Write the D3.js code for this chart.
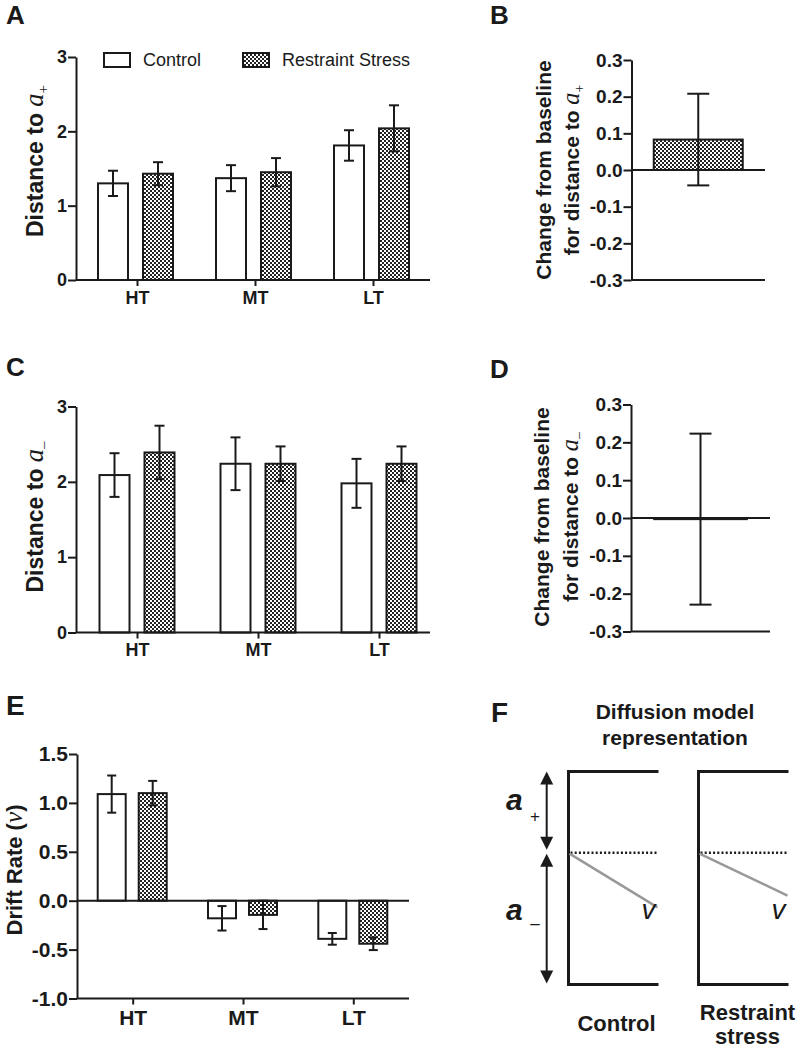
<!DOCTYPE html>
<html>
<head>
<meta charset="utf-8">
<script src="https://cdn.jsdelivr.net/npm/d3@7"></script>
<style>
  body { margin: 0; background: #fff; }
  text { font-family: "Liberation Sans", Arial, sans-serif; fill: #1a1a1a; }
</style>
</head>
<body>
<script>
// categories and groups
var categories = ["HT", "MT", "LT"];
var groups = ["Control", "Restraint Stress"];

// Panel A - distance to a+
var aPlusControl = [1.30, 1.37, 1.81];
var aPlusControlSem = [0.17, 0.175, 0.205];
var aPlusStress = [1.43, 1.45, 2.04];
var aPlusStressSem = [0.155, 0.19, 0.31];
var distanceTicks = [0, 1, 2, 3];

// Panel B - change from baseline, a+
var aPlusChange = [0.083];
var aPlusChangeSem = [0.125];
var changeTicks = [-0.3, -0.2, -0.1, 0.0, 0.1, 0.2, 0.3];

// Panel C - distance to a-
var aMinusControl = [2.09, 2.24, 1.98];
var aMinusControlSem = [0.29, 0.35, 0.325];
var aMinusStress = [2.39, 2.24, 2.24];
var aMinusStressSem = [0.355, 0.23, 0.23];

// Panel D - change from baseline, a-
var aMinusChange = [-0.003];
var aMinusChangeSem = [0.226];

// Panel E - drift rate
var driftControl = [1.09, -0.18, -0.39];
var driftControlSem = [0.19, 0.125, 0.06];
var driftStress = [1.10, -0.145, -0.44];
var driftStressSem = [0.125, 0.145, 0.065];
var driftTicks = [-1.0, -0.5, 0.0, 0.5, 1.0, 1.5];

// Panel F - diffusion model sketch
var diagramConditions = ["Control", "Restraint stress"];
var diagramBounds = [1, -1.625];   // a+ above start, a- below start
var diagramDrift = [-0.674, -0.53];

var ink = "#1a1a1a";

var svg = d3.select("body")
  .append("svg")
  .attr("width", 797)
  .attr("height", 1050);

// checkered fill used for restraint stress bars
var pat = svg.append("defs").append("pattern")
  .attr("id", "checker")
  .attr("patternUnits", "userSpaceOnUse")
  .attr("width", 4)
  .attr("height", 4);
pat.append("rect").attr("width", 4).attr("height", 4).attr("fill", "#fff");
pat.append("rect").attr("width", 2).attr("height", 2).attr("fill", "#222");
pat.append("rect").attr("x", 2).attr("y", 2).attr("width", 2).attr("height", 2).attr("fill", "#222");

var fmt1 = d => d.toFixed(1);

function panelLetter(label, x, y, size) {
  svg.append("text")
    .attr("x", x).attr("y", y)
    .attr("font-size", size)
    .attr("font-weight", "bold")
    .text(label);
}

// rotated y label; parts = [[text, style], ...]
function yLabel(lines, x, y, size, lineGap) {
  var t = svg.append("text")
    .attr("transform", `translate(${x},${y}) rotate(-90)`)
    .attr("text-anchor", "middle")
    .attr("font-size", size)
    .attr("font-weight", "bold");
  lines.forEach(function(parts, i) {
    var first = true;
    parts.forEach(function(p) {
      var s = t.append("tspan").text(p[0]);
      if (first) {
        s.attr("x", 0).attr("y", i * lineGap);
        first = false;
      }
      if (p[1] === "it") {
        s.attr("font-family", "'Liberation Serif', serif")
          .attr("font-style", "italic")
          .attr("font-weight", "normal")
          .attr("font-size", size * 1.15);
      } else if (p[1] === "sub") {
        s.attr("font-family", "'Liberation Serif', serif")
          .attr("font-weight", "normal")
          .attr("font-size", size * 0.65)
          .attr("dy", size * 0.22);
      }
    });
  });
}

function errorBar(g, cx, lo, hi, cap) {
  g.append("line")
    .attr("x1", cx).attr("x2", cx)
    .attr("y1", lo).attr("y2", hi)
    .attr("stroke", ink).attr("stroke-width", 2);
  [lo, hi].forEach(function(yy) {
    g.append("line")
      .attr("x1", cx - cap / 2).attr("x2", cx + cap / 2)
      .attr("y1", yy).attr("y2", yy)
      .attr("stroke", ink).attr("stroke-width", 2);
  });
}

function hLine(g, x1, x2, yy) {
  g.append("line")
    .attr("x1", x1).attr("x2", x2)
    .attr("y1", yy).attr("y2", yy)
    .attr("stroke", ink).attr("stroke-width", 2);
}

function styleTicks(sel, size) {
  sel.selectAll("text")
    .attr("font-size", size).attr("font-weight", "bold")
    .attr("font-family", "'Liberation Sans', Arial, sans-serif").attr("fill", ink);
}

// grouped bar panels (A, C, E)
function groupedPanel(cfg) {
  var g = svg.append("g");
  var y = d3.scaleLinear().domain(cfg.yDomain).range([cfg.bottom, cfg.top]);
  var x = d3.scalePoint().domain(categories).range(cfg.xCenters);
  var span = 2 * cfg.barW + cfg.gap;
  var inner = d3.scaleBand()
    .domain(groups)
    .range([-span / 2 + cfg.shift, span / 2 + cfg.shift])
    .paddingInner(cfg.gap / (cfg.barW + cfg.gap));

  var series = [
    { name: groups[0], values: cfg.control, sem: cfg.controlSem, fill: "#fff" },
    { name: groups[1], values: cfg.stress, sem: cfg.stressSem, fill: "url(#checker)" }
  ];

  series.forEach(function(s) {
    categories.forEach(function(c, i) {
      var v = s.values[i];
      var bx = x(c) + inner(s.name);
      g.append("rect")
        .attr("x", bx)
        .attr("y", Math.min(y(v), y(0)))
        .attr("width", inner.bandwidth())
        .attr("height", Math.abs(y(v) - y(0)))
        .attr("fill", s.fill)
        .attr("stroke", ink)
        .attr("stroke-width", 2);
    });
  });
  series.forEach(function(s) {
    categories.forEach(function(c, i) {
      var v = s.values[i];
      var cx = x(c) + inner(s.name) + inner.bandwidth() / 2;
      errorBar(g, cx, y(v - s.sem[i]), y(v + s.sem[i]), cfg.cap);
    });
  });

  // y axis
  var yAxis = g.append("g")
    .attr("transform", `translate(${cfg.axisX},0)`)
    .call(d3.axisLeft(y).tickValues(cfg.ticks).tickFormat(cfg.fmt).tickSize(8).tickSizeOuter(0).tickPadding(1));
  yAxis.selectAll("path, line").attr("stroke", ink).attr("stroke-width", 2);
  styleTicks(yAxis, cfg.tickFont);

  // x axis at the bottom of the plot
  var bottomY = y(cfg.yDomain[0]);
  hLine(g, cfg.axisX, cfg.xEnd, bottomY);
  if (cfg.yDomain[0] < 0) hLine(g, cfg.axisX, cfg.xEnd, y(0));
  var xAxis = g.append("g")
    .attr("transform", `translate(0,${bottomY})`)
    .call(d3.axisBottom(x).tickSize(6).tickPadding(cfg.xPad));
  xAxis.select(".domain").remove();
  xAxis.selectAll("line").attr("stroke", ink).attr("stroke-width", 2);
  styleTicks(xAxis, cfg.xFont);
  return g;
}

// single bar change panels (B, D)
function changePanel(cfg) {
  var g = svg.append("g");
  var y = d3.scaleLinear().domain([-0.3, 0.3]).range([cfg.bottom, cfg.top]);
  var x = d3.scaleBand().domain([groups[1]]).range([cfg.axisX, cfg.xEnd]).paddingOuter(0.25);
  var v = cfg.values[0];
  g.append("rect")
    .attr("x", x(groups[1]))
    .attr("y", Math.min(y(v), y(0)))
    .attr("width", x.bandwidth())
    .attr("height", Math.max(Math.abs(y(v) - y(0)), 0.5))
    .attr("fill", "url(#checker)")
    .attr("stroke", ink)
    .attr("stroke-width", 2);
  errorBar(g, x(groups[1]) + x.bandwidth() / 2, y(v - cfg.sem[0]), y(v + cfg.sem[0]), 22);

  var yAxis = g.append("g")
    .attr("transform", `translate(${cfg.axisX},0)`)
    .call(d3.axisLeft(y).tickValues(changeTicks).tickFormat(fmt1).tickSize(8).tickSizeOuter(0).tickPadding(1));
  yAxis.selectAll("path, line").attr("stroke", ink).attr("stroke-width", 2);
  styleTicks(yAxis, 19);
  hLine(g, cfg.axisX, cfg.xEnd, y(0));
  hLine(g, cfg.axisX, cfg.xEnd, y(-0.3));
}

// ---- Panel A
panelLetter("A", 6, 24, 26);
groupedPanel({
  yDomain: [0, 3], bottom: 280, top: 57, ticks: distanceTicks, fmt: d3.format("d"),
  xCenters: [137, 373], barW: 30, gap: 15, shift: -1.5, cap: 10,
  axisX: 76, xEnd: 430, tickFont: 18, xFont: 18, xPad: 5,
  control: aPlusControl, controlSem: aPlusControlSem,
  stress: aPlusStress, stressSem: aPlusStressSem
});
yLabel([[["Distance to "], ["a", "it"], ["+", "sub"]]], 43, 161, 23, 0);

// legend
var legend = svg.append("g");
var legendX = d3.scalePoint().domain(groups).range([104, 243]);
groups.forEach(function(name, i) {
  legend.append("rect")
    .attr("x", legendX(name)).attr("y", 53)
    .attr("width", 26).attr("height", 14)
    .attr("fill", i === 0 ? "#fff" : "url(#checker)")
    .attr("stroke", ink).attr("stroke-width", 2);
  legend.append("text")
    .attr("x", legendX(name) + 39).attr("y", 66)
    .attr("font-size", 18)
    .text(name);
});

// ---- Panel B
panelLetter("B", 490, 24, 26);
changePanel({ bottom: 280, top: 60, axisX: 631.5, xEnd: 765, values: aPlusChange, sem: aPlusChangeSem });
yLabel([[["Change from baseline"]], [["for distance to "], ["a", "it"], ["+", "sub"]]], 551, 170, 21, 28);

// ---- Panel C
panelLetter("C", 6, 376, 26);
groupedPanel({
  yDomain: [0, 3], bottom: 632.5, top: 406.5, ticks: distanceTicks, fmt: d3.format("d"),
  xCenters: [137, 379], barW: 30, gap: 15, shift: 0, cap: 10,
  axisX: 76, xEnd: 430, tickFont: 18, xFont: 18, xPad: 5,
  control: aMinusControl, controlSem: aMinusControlSem,
  stress: aMinusStress, stressSem: aMinusStressSem
});
yLabel([[["Distance to "], ["a", "it"], ["\u2013", "sub"]]], 43, 517, 23, 0);

// ---- Panel D
panelLetter("D", 490, 378, 26);
changePanel({ bottom: 631.5, top: 404.5, axisX: 631, xEnd: 770, values: aMinusChange, sem: aMinusChangeSem });
yLabel([[["Change from baseline"]], [["for distance to "], ["a", "it"], ["\u2013", "sub"]]], 549, 517, 21, 29);

// ---- Panel E
panelLetter("E", 6, 715, 28);
groupedPanel({
  yDomain: [-1, 1.5], bottom: 998.5, top: 754, ticks: driftTicks, fmt: fmt1,
  xCenters: [132.7, 353.3], barW: 28, gap: 13, shift: -0.5, cap: 9,
  axisX: 77, xEnd: 409, tickFont: 21, xFont: 21, xPad: 6,
  control: driftControl, controlSem: driftControlSem,
  stress: driftStress, stressSem: driftStressSem
});
yLabel([[["Drift Rate ("], ["v", "it"], [")"]]], 22, 870, 22, 0);

// ---- Panel F
panelLetter("F", 491, 722, 28);
svg.append("text").attr("x", 675).attr("y", 719).attr("text-anchor", "middle")
  .attr("font-size", 21).attr("font-weight", "bold").text("Diffusion model");
svg.append("text").attr("x", 675).attr("y", 745).attr("text-anchor", "middle")
  .attr("font-size", 21).attr("font-weight", "bold").text("representation");

var fy = d3.scaleLinear().domain([diagramBounds[1], diagramBounds[0]]).range([984.5, 771.5]);
var fx = d3.scaleBand().domain(diagramConditions).range([568.5, 788.5]).paddingInner(40 / 130);
var fg = svg.append("g");

diagramConditions.forEach(function(cond, i) {
  var x0 = fx(cond), x1 = x0 + fx.bandwidth();
  fg.append("path")
    .attr("d", `M${x1},${fy(diagramBounds[0])}H${x0}V${fy(diagramBounds[1])}H${x1}`)
    .attr("fill", "none").attr("stroke", ink).attr("stroke-width", 3);
  fg.append("line")
    .attr("x1", x0 + 2).attr("x2", x1 - 2)
    .attr("y1", fy(0)).attr("y2", fy(0))
    .attr("stroke", ink).attr("stroke-width", 2.5).attr("stroke-dasharray", "2,2.2");
  fg.append("line")
    .attr("x1", x0 + 1).attr("x2", x1 - 1)
    .attr("y1", fy(0) + 1).attr("y2", fy(diagramDrift[i]))
    .attr("stroke", "#999").attr("stroke-width", 2.5);
  fg.append("text")
    .attr("x", x1 - 10).attr("y", 919)
    .attr("text-anchor", "middle")
    .attr("font-family", "'Liberation Serif', serif")
    .attr("font-style", "italic").attr("font-size", 28)
    .text("v");
});

// double arrows for a+ and a-
var ax = 546.7;
function arrowHead(xx, yy, dir) {
  fg.append("path")
    .attr("d", `M${xx},${yy}L${xx - 6.5},${yy - dir * 13}L${xx + 6.5},${yy - dir * 13}Z`)
    .attr("fill", ink);
}
[[fy(diagramBounds[0]), fy(0) - 3], [fy(0) + 1, fy(diagramBounds[1]) - 1]].forEach(function(seg) {
  fg.append("line")
    .attr("x1", ax).attr("x2", ax)
    .attr("y1", seg[0] + 6).attr("y2", seg[1] - 6)
    .attr("stroke", ink).attr("stroke-width", 2);
  arrowHead(ax, seg[0], -1);
  arrowHead(ax, seg[1], 1);
});

[["+", 810, 822], ["\u2013", 920, 929]].forEach(function(lab) {
  fg.append("text")
    .attr("x", 506).attr("y", lab[1])
    .attr("font-family", "'Liberation Serif', serif")
    .attr("font-style", "italic").attr("font-weight", "bold")
    .attr("font-size", 30)
    .text("a");
  fg.append("text")
    .attr("x", 535).attr("y", lab[2])
    .attr("text-anchor", "middle")
    .attr("font-family", "'Liberation Serif', serif")
    .attr("font-size", 17).attr("fill", "#444")
    .text(lab[0]);
});

// condition names under the boxes
fg.append("text").attr("x", fx(diagramConditions[0]) + fx.bandwidth() / 2 + 3).attr("y", 1031)
  .attr("text-anchor", "middle").attr("font-size", 22).attr("font-weight", "bold").text("Control");
fg.append("text").attr("x", fx(diagramConditions[1]) + fx.bandwidth() / 2 + 4).attr("y", 1020)
  .attr("text-anchor", "middle").attr("font-size", 22).attr("font-weight", "bold").text("Restraint");
fg.append("text").attr("x", fx(diagramConditions[1]) + fx.bandwidth() / 2 + 4).attr("y", 1044)
  .attr("text-anchor", "middle").attr("font-size", 22).attr("font-weight", "bold").text("stress");
</script>
</body>
</html>
